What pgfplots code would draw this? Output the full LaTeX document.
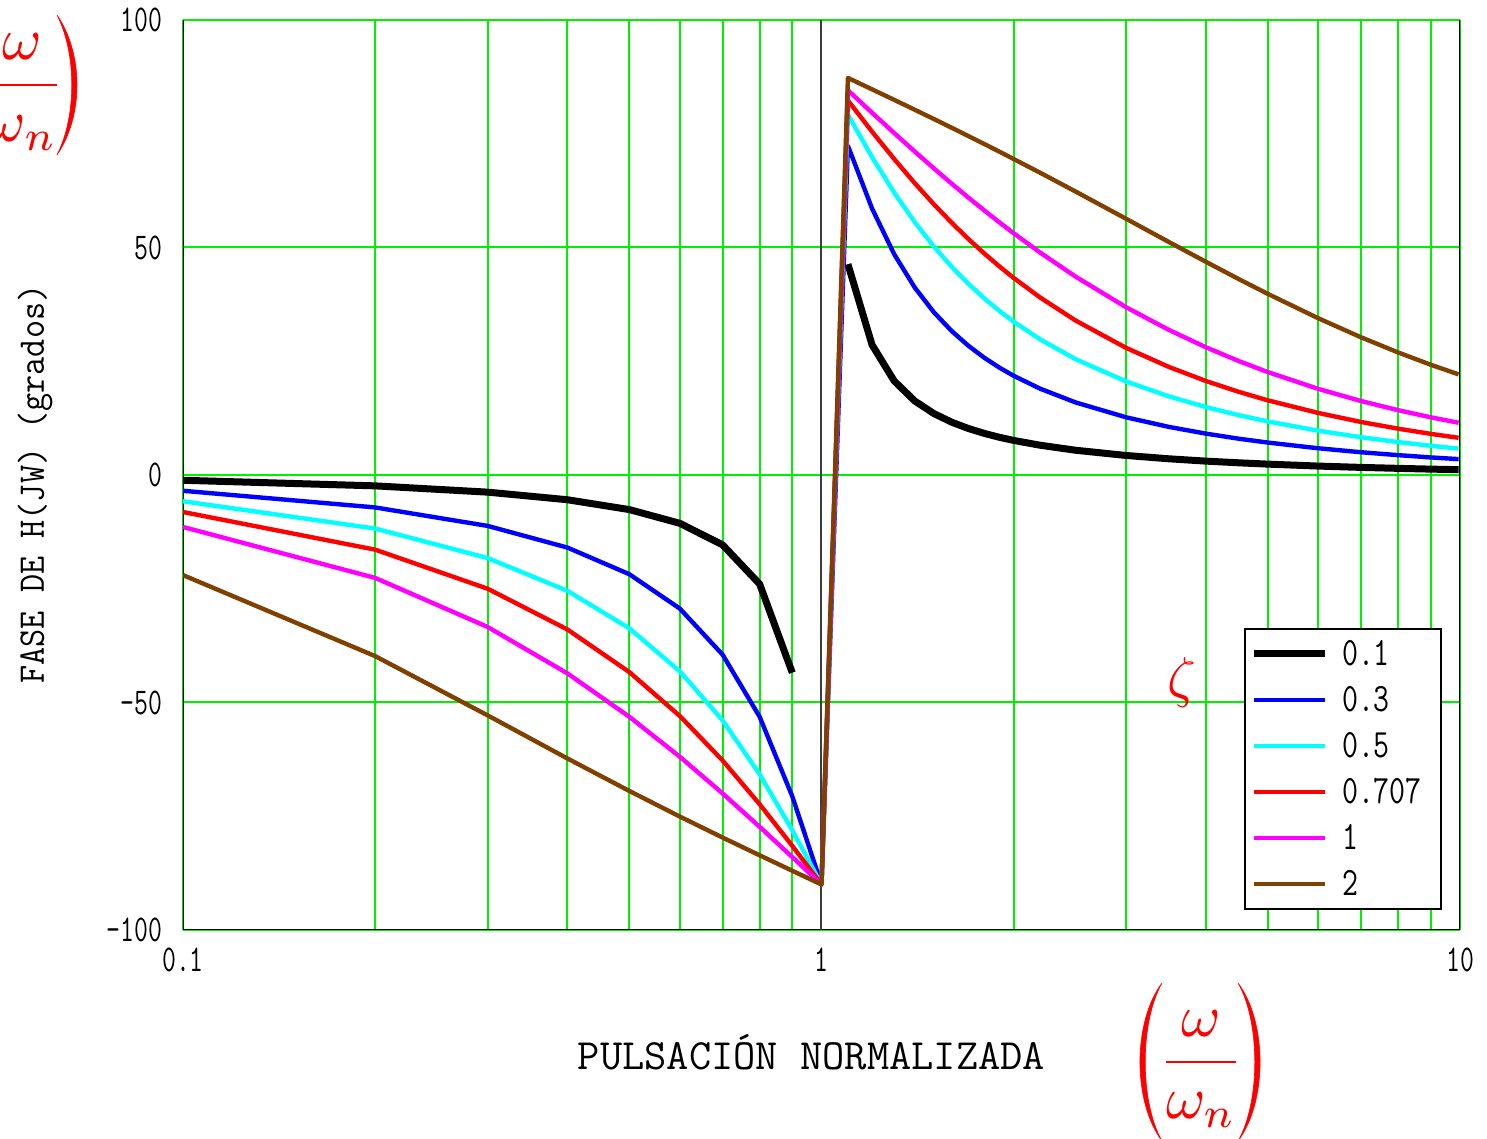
\documentclass[border=0pt]{standalone}
\usepackage{graphicx}
\usepackage{pgfplots}
\pgfplotsset{compat=1.18}
\usepackage{fontspec}
\definecolor{gridgreen}{RGB}{0,240,0}
\definecolor{brn}{RGB}{128,64,0}
\definecolor{axgray}{RGB}{60,60,60}
\definecolor{cyn}{RGB}{0,255,255}
\definecolor{mgt}{RGB}{255,0,255}
\definecolor{blu}{RGB}{0,0,255}
\definecolor{rd}{RGB}{255,0,0}
\newcommand{\tl}[1]{\scalebox{1}[1.4]{#1}}
\newcommand{\lt}[1]{\makebox[47pt][l]{\scalebox{1}[1.3]{#1}}}
\begin{document}
\begin{tikzpicture}
\useasboundingbox (-91.5pt,-104.5pt) rectangle (652pt,465pt);
\begin{axis}[
  at={(0pt,0pt)}, anchor=south west,
  scale only axis, width=638.5pt, height=455pt,
  xmode=log, log basis x=10,
  xmin=0.1, xmax=10, ymin=-100, ymax=100,
  xtick={0.1,1,10}, xticklabels={\tl{0.1},\tl{1},\tl{10}},
  minor xtick={0.2,0.3,0.4,0.5,0.6,0.7,0.8,0.9,2,3,4,5,6,7,8,9},
  ytick={-100,-50,0,50,100},
  yticklabels={\tl{\textendash100},\tl{\textendash50},\tl{0},\tl{50},\tl{100}},
  grid=both,
  major grid style={gridgreen, line width=1pt},
  minor grid style={gridgreen, line width=1pt},
  major tick length=0pt, minor tick length=0pt,
  axis line style={draw=none},
  xticklabel style={font=\ttfamily\fontsize{13.5pt}{14pt}\selectfont, anchor=north, inner sep=0pt, yshift=-9pt},
  yticklabel style={font=\ttfamily\fontsize{13.5pt}{14pt}\selectfont, anchor=east, inner sep=0pt, xshift=-10pt},
  unbounded coords=jump,
  every axis plot/.append style={line join=round},
  legend style={at={(rel axis cs:0.8309,0.3319)}, anchor=north west,
    draw=black, line width=1pt, fill=white,
    inner xsep=2.5pt, inner ysep=1pt, row sep=0pt, column sep=7pt,
    font=\ttfamily\fontsize{15.5pt}{16pt}\selectfont,
    nodes={inner sep=0pt, minimum height=23pt}},
  legend image code/.code={\draw[#1] (0pt,0pt) -- (35.5pt,0pt);},
  legend cell align=left,
]
\draw[black, line width=1.3pt] (rel axis cs:0,1) -- (rel axis cs:0,0) -- (rel axis cs:1,0) -- (rel axis cs:1,1);
\draw[axgray, line width=1pt] (axis cs:1,-100) -- (axis cs:1,100);

\addplot[black, line width=3.5pt] coordinates {
(0.1,-1.16) (0.2,-2.39) (0.3,-3.77) (0.4,-5.44) (0.5,-7.60) (0.6,-10.62) (0.7,-15.35) (0.8,-23.96) (0.9,-43.45)
(1,nan)
(1.1,46.33) (1.2,28.61) (1.3,20.65) (1.4,16.26) (1.5,13.50) (1.6,11.59) (1.7,10.20) (1.8,9.13) (1.9,8.28) (2.0,7.60)
(2.2,6.54) (2.5,5.44) (3,4.29) (3.5,3.56) (4,3.05) (4.5,2.68) (5,2.39) (6,1.96) (7,1.67) (8,1.46) (9,1.29) (9.95,1.17)
};
\addlegendentry{\lt{0.1}}

\addplot[blu, line width=2.2pt] coordinates {
(0.1,-3.47) (0.2,-7.13) (0.3,-11.19) (0.4,-15.95) (0.5,-21.80) (0.6,-29.36) (0.7,-39.48) (0.8,-53.13) (0.9,-70.62) (1,-90)
(1.1,72.35) (1.2,58.57) (1.3,48.50) (1.4,41.19) (1.5,35.75) (1.6,31.61) (1.7,28.36) (1.8,25.74) (1.9,23.59) (2,21.80)
(2.2,18.97) (2.5,15.95) (3,12.68) (3.5,10.57) (4,9.09) (4.5,7.98) (5,7.13) (6,5.87) (7,5.00) (8,4.36) (9,3.86) (9.95,3.49)
};
\addlegendentry{\lt{0.3}}

\addplot[cyn, line width=2.2pt] coordinates {
(0.1,-5.77) (0.2,-11.77) (0.3,-18.25) (0.4,-25.46) (0.5,-33.69) (0.6,-43.15) (0.7,-53.92) (0.8,-65.77) (0.9,-78.08) (1,-90)
(1.1,79.19) (1.2,69.86) (1.3,62.04) (1.4,55.56) (1.5,50.19) (1.6,45.73) (1.7,41.97) (1.8,38.79) (1.9,36.05) (2,33.69)
(2.2,29.81) (2.5,25.46) (3,20.56) (3.5,17.28) (4,14.93) (4.5,13.16) (5,11.77) (6,9.73) (7,8.30) (8,7.24) (9,6.42) (9.95,5.80)
};
\addlegendentry{\lt{0.5}}

\addplot[rd, line width=2.2pt] coordinates {
(0.1,-8.13) (0.2,-16.41) (0.3,-24.99) (0.4,-33.95) (0.5,-43.31) (0.6,-52.97) (0.7,-62.74) (0.8,-72.35) (0.9,-81.51) (1,-90)
(1.1,82.31) (1.2,75.46) (1.3,69.43) (1.4,64.13) (1.5,59.49) (1.6,55.41) (1.7,51.82) (1.8,48.65) (1.9,45.83) (2,43.31)
(2.2,39.01) (2.5,33.95) (3,27.94) (3.5,23.75) (4,20.66) (4.5,18.29) (5,16.41) (6,13.63) (7,11.65) (8,10.18) (9,9.04) (9.95,8.17)
};
\addlegendentry{\lt{0.707}}

\addplot[mgt, line width=2.2pt] coordinates {
(0.1,-11.42) (0.2,-22.62) (0.3,-33.40) (0.4,-43.60) (0.5,-53.13) (0.6,-61.93) (0.7,-69.98) (0.8,-77.32) (0.9,-83.97) (1,-90)
(1.1,84.55) (1.2,79.61) (1.3,75.14) (1.4,71.08) (1.5,67.38) (1.6,64.01) (1.7,60.93) (1.8,58.11) (1.9,55.52) (2,53.13)
(2.2,48.89) (2.5,43.60) (3,36.87) (3.5,31.89) (4,28.07) (4.5,25.06) (5,22.62) (6,18.92) (7,16.26) (8,14.25) (9,12.68) (9.95,11.48)
};
\addlegendentry{\lt{1}}

\addplot[brn, line width=2.2pt] coordinates {
(0.1,-22.00) (0.2,-39.81) (0.3,-52.83) (0.4,-62.30) (0.5,-69.44) (0.6,-75.07) (0.7,-79.68) (0.8,-83.58) (0.9,-86.98) (1,-90)
(1.1,87.27) (1.2,84.76) (1.3,82.44) (1.4,80.27) (1.5,78.23) (1.6,76.30) (1.7,74.47) (1.8,72.72) (1.9,71.05) (2,69.44)
(2.2,66.43) (2.5,62.30) (3,56.31) (3.5,51.21) (4,46.85) (4.5,43.08) (5,39.81) (6,34.44) (7,30.26) (8,26.93) (9,24.23) (9.95,22.11)
};
\addlegendentry{\lt{2}}
\end{axis}

\node[text=red] at (499.5pt,123.5pt) {\scalebox{2.8}{$\zeta$}};
% top-left label
\node[text=red, anchor=base, inner sep=0pt] at (-80.5pt,415pt) {\scalebox{3}{$\displaystyle\frac{\omega}{\omega_n}$}};
\fill[red, draw=red, line width=0.3pt] (-63pt,457.5pt) .. controls (-49.67pt,438pt) and (-49.67pt,407pt) .. (-63pt,387.5pt)
   .. controls (-53.13pt,407pt) and (-53.13pt,438pt) .. (-63pt,457.5pt) -- cycle;
% bottom label
\node[text=red, anchor=base, inner sep=0pt] at (509pt,-73.5pt) {\scalebox{3}{$\displaystyle\frac{\omega}{\omega_n}$}};
\fill[red, draw=red, line width=0.3pt] (489.5pt,-26.5pt) .. controls (474.8pt,-46pt) and (474.8pt,-86pt) .. (489.5pt,-105.5pt)
   .. controls (478.3pt,-86pt) and (478.3pt,-46pt) .. (489.5pt,-26.5pt) -- cycle;
\fill[red, draw=red, line width=0.3pt] (527.5pt,-26.5pt) .. controls (542.2pt,-46pt) and (542.2pt,-86pt) .. (527.5pt,-105.5pt)
   .. controls (538.7pt,-86pt) and (538.7pt,-46pt) .. (527.5pt,-26.5pt) -- cycle;
\node[font=\ttfamily\fontsize{21.6pt}{22pt}\selectfont] at (314.25pt,-61pt) {PULSACIÓN NORMALIZADA};
\node[rotate=90, font=\ttfamily\fontsize{17.6pt}{18pt}\selectfont] at (-74pt,223pt) {\scalebox{1}[1.07]{FASE DE H(JW) (grados)}};
\end{tikzpicture}
\end{document}
